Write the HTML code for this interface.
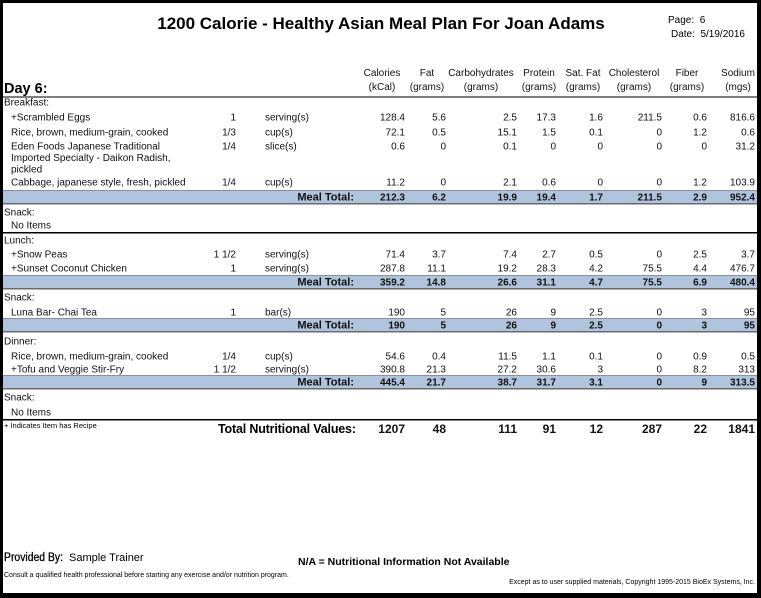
<!DOCTYPE html>
<html><head><meta charset="utf-8"><style>
html,body{margin:0;padding:0;background:#000;}
body{width:761px;height:598px;overflow:hidden;}
svg{display:block;font-family:"Liberation Sans",Arial,sans-serif;}
</style></head><body>
<svg id="page" width="761" height="598" viewBox="0 0 761 598">
<rect x="0" y="0" width="761" height="598" fill="#000"/>
<rect x="3" y="3" width="754" height="590" fill="#fff"/>
<text x="381" y="29" text-anchor="middle" font-size="17" font-weight="bold">1200 Calorie - Healthy Asian Meal Plan For Joan Adams</text>
<text x="668" y="23" font-size="10">Page:&#160; 6</text>
<text x="671" y="37" font-size="10">Date:&#160; 5/19/2016</text>
<text x="4" y="93" font-size="14.5" font-weight="bold">Day 6:</text>
<line x1="3" y1="97" x2="757" y2="97" stroke="#555" stroke-width="1.5"/>
<g id="tbl"></g>
<text x="4" y="428" font-size="7.5">+ Indicates Item has Recipe</text>
<text x="218" y="433" font-size="12.5" font-weight="bold" textLength="138">Total Nutritional Values:</text>
<text x="4" y="561" font-size="11.5" textLength="59" lengthAdjust="spacingAndGlyphs" stroke="#000" stroke-width="0.3">Provided By:</text>
<text x="69" y="561" font-size="11">Sample Trainer</text>
<text x="298" y="565" font-size="10.5" font-weight="bold">N/A = Nutritional Information Not Available</text>
<text x="4" y="577" font-size="7">Consult a qualified health professional before starting any exercise and/or nutrition program.</text>
<text x="755" y="584" font-size="7" text-anchor="end">Except as to user supplied materials, Copyright 1995-2015 BioEx Systems, Inc.</text>
</svg>
<script>
var headersTop=["Calories","Fat","Carbohydrates","Protein","Sat. Fat","Cholesterol","Fiber","Sodium"];
var headersBottom=["(kCal)","(grams)","(grams)","(grams)","(grams)","(grams)","(grams)","(mgs)"];
var breakfastItems=[["+Scrambled Eggs","1","serving(s)"],["Rice, brown, medium-grain, cooked","1/3","cup(s)"],["Eden Foods Japanese Traditional|Imported Specialty - Daikon Radish,|pickled","1/4","slice(s)"],["Cabbage, japanese style, fresh, pickled","1/4","cup(s)"]];
var breakfastValues=[["128.4","5.6","2.5","17.3","1.6","211.5","0.6","816.6"],["72.1","0.5","15.1","1.5","0.1","0","1.2","0.6"],["0.6","0","0.1","0","0","0","0","31.2"],["11.2","0","2.1","0.6","0","0","1.2","103.9"]];
var breakfastTotal=["212.3","6.2","19.9","19.4","1.7","211.5","2.9","952.4"];
var lunchItems=[["+Snow Peas","1 1/2","serving(s)"],["+Sunset Coconut Chicken","1","serving(s)"]];
var lunchValues=[["71.4","3.7","7.4","2.7","0.5","0","2.5","3.7"],["287.8","11.1","19.2","28.3","4.2","75.5","4.4","476.7"]];
var lunchTotal=["359.2","14.8","26.6","31.1","4.7","75.5","6.9","480.4"];
var snackItems=[["Luna Bar- Chai Tea","1","bar(s)"]];
var snackValues=[["190","5","26","9","2.5","0","3","95"]];
var snackTotal=["190","5","26","9","2.5","0","3","95"];
var dinnerItems=[["Rice, brown, medium-grain, cooked","1/4","cup(s)"],["+Tofu and Veggie Stir-Fry","1 1/2","serving(s)"]];
var dinnerValues=[["54.6","0.4","11.5","1.1","0.1","0","0.9","0.5"],["390.8","21.3","27.2","30.6","3","0","8.2","313"]];
var dinnerTotal=["445.4","21.7","38.7","31.7","3.1","0","9","313.5"];
var dayTotals=["1207","48","111","91","12","287","22","1841"];

var NS="http://www.w3.org/2000/svg";
var g=document.getElementById('tbl');
var colRight=[405,446,517,556,603,662,707,755];
var colCenter=[382,427,481,539,583,634,687,738];
function t(x,y,s,size,anchor,bold,name){
  var e=document.createElementNS(NS,'text');
  e.setAttribute('x',x);e.setAttribute('y',y);e.setAttribute('font-size',size);
  if(anchor)e.setAttribute('text-anchor',anchor);
  if(bold)e.setAttribute('font-weight','bold');
  e.setAttribute('fill','#111');
  e.textContent=s;
  
  
  g.appendChild(e);return e;
}
function r(x,y,w,h,fill,name){
  var e=document.createElementNS(NS,'rect');
  e.setAttribute('x',x);e.setAttribute('y',y);e.setAttribute('width',w);e.setAttribute('height',h);e.setAttribute('fill',fill);
  
  
  g.appendChild(e);return e;
}
headersTop.forEach(function(h,i){
  t(colCenter[i],76,h,10,'middle',false,'column-header');
  t(colCenter[i],90,headersBottom[i],10,'middle',false,'column-unit');
});
function section(label,labelY,items,values,rowYs,total,barTop,lineY){
  t(4,labelY+3.5,label,10,null,false,'meal-label');
  items.forEach(function(it,i){
    var y=rowYs[i]+3.5;
    var parts=it[0].split('|');
    parts.forEach(function(p,k){t(11,y+k*11.5,p,10,null,false,'food-name');});
    t(236,y,it[1],10,'end',false,'food-quantity');
    t(265,y,it[2],10,null,false,'food-unit');
    values[i].forEach(function(v,c){t(colRight[c],y,v,10,'end',false,'nutrient-value');});
  });
  if(total){
    r(3,barTop,754,14,'#b0c4de','meal-total-bar');
    r(3,barTop,754,1,'#8a8f99','meal-total-top-rule');
    r(3,barTop+13,754,1.5,'#6b6b6b','meal-total-bottom-rule');
    t(354,barTop+10.5,'Meal Total:',11,'end',true,'meal-total-label');
    total.forEach(function(v,c){t(colRight[c],barTop+10.5,v,10,'end',true,'meal-total-value');});
  }
  if(lineY){
    t(11,lineY-7+3.5,'No Items',10,null,false,'no-items');
    r(3,lineY,754,1.5,'#000','section-rule');
  }
}
section('Breakfast:',102,breakfastItems,breakfastValues,[117,132,146,182],breakfastTotal,190,null);
section('Snack:',212,[],[],[],null,0,232);
section('Lunch:',240,lunchItems,lunchValues,[254,268],lunchTotal,275,null);
section('Snack:',297,snackItems,snackValues,[312],snackTotal,318,null);
section('Dinner:',341,dinnerItems,dinnerValues,[356,369],dinnerTotal,375,null);
section('Snack:',397,[],[],[],null,0,419);
dayTotals.forEach(function(v,c){t(colRight[c],433,v,12,'end',true,'day-total-value');});
</script>
</body></html>
